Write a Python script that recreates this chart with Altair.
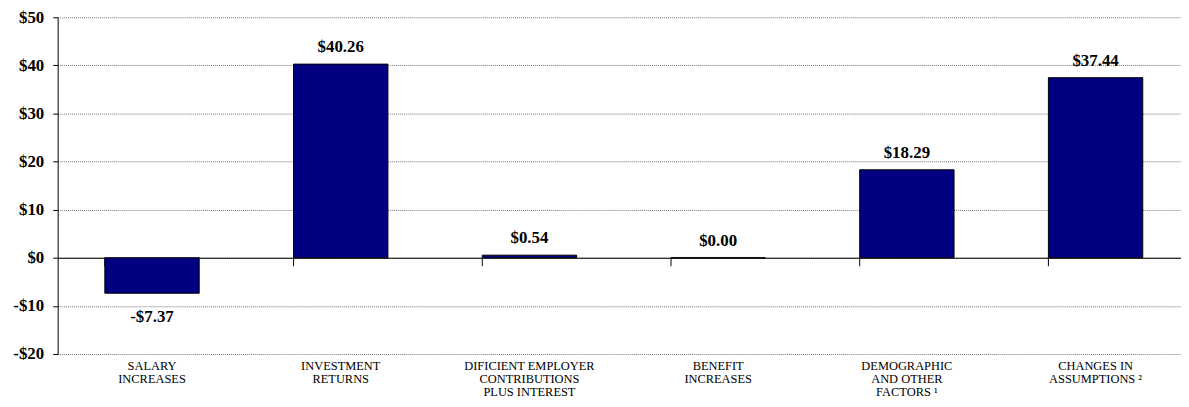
import altair as alt
import pandas as pd

categories = [
    "SALARY\nINCREASES",
    "INVESTMENT\nRETURNS",
    "DIFICIENT EMPLOYER\nCONTRIBUTIONS\nPLUS INTEREST",
    "BENEFIT\nINCREASES",
    "DEMOGRAPHIC\nAND OTHER\nFACTORS \u00b9",
    "CHANGES IN\nASSUMPTIONS \u00b2",
]
values = [-7.37, 40.26, 0.54, 0.00, 18.29, 37.44]
y_ticks = [-20, -10, 0, 10, 20, 30, 40, 50]

df = pd.DataFrame({"cat": categories, "v": values})

W, H = 1131, 339
XRANGE = 1140  # band scale extends slightly past the visible edge, as in the source
ymin, ymax = -20, 50
zero_offset = -H * (0 - ymin) / (ymax - ymin)

SERIF = "Liberation Serif"

x_enc = alt.X(
    "cat:N",
    sort=categories,
    scale=alt.Scale(paddingInner=0.5, paddingOuter=0.25, range=[0, XRANGE]),
    axis=alt.Axis(
        title=None,
        orient="bottom",
        offset=zero_offset,
        bandPosition=0,
        domainColor="black",
        domainWidth=1,
        tickColor="black",
        tickSize=8,
        labelPadding=-zero_offset - 2,
        labelExpr="split(datum.label, '\\n')",
        labelFont=SERIF,
        labelFontSize=12.5,
        labelColor="#000000",
        labelAngle=0,
        labelBaseline="top",
        labelLineHeight=13,
        labelAlign="center",
    ),
)

y_enc = alt.Y(
    "v:Q",
    scale=alt.Scale(domain=[ymin, ymax], nice=False),
    axis=alt.Axis(
        title=None,
        values=y_ticks,
        labelExpr="datum.value < 0 ? '-$' + abs(datum.value) : '$' + datum.value",
        labelFont=SERIF,
        labelFontSize=17,
        labelFontWeight="bold",
        labelColor="#000000",
        labelPadding=9,
        tickSize=5,
        tickColor="black",
        domainColor="black",
        grid=True,
        gridColor="#777777",
        gridDash=[1, 1],
        gridWidth=1,
    ),
)

bars = alt.Chart(df).mark_bar(
    color="#000080", stroke="#000000", strokeWidth=1
).encode(x=x_enc, y=y_enc)

base_labels = alt.Chart(df).transform_calculate(
    txt="(datum.v < 0 ? '-' : '') + '$' + format(abs(datum.v), '.2f')"
)

pos_labels = base_labels.transform_filter("datum.v >= 0").mark_text(
    font=SERIF, fontSize=17, fontWeight="bold", color="black",
    baseline="middle", dy=-17,
).encode(
    x=alt.X("cat:N", sort=categories),
    y=alt.Y("v:Q"),
    text="txt:N",
)

neg_labels = base_labels.transform_filter("datum.v < 0").mark_text(
    font=SERIF, fontSize=17, fontWeight="bold", color="black",
    baseline="middle", dy=24,
).encode(
    x=alt.X("cat:N", sort=categories),
    y=alt.Y("v:Q"),
    text="txt:N",
)

chart = alt.layer(bars, pos_labels, neg_labels).properties(
    width=W,
    height=H,
    autosize=alt.AutoSizeParams(type="none"),
    padding={"left": 50, "top": 8, "right": 0, "bottom": 44},
).configure_view(stroke=None)

chart.save("out.html", embed_options={"renderer": "svg", "actions": False})
